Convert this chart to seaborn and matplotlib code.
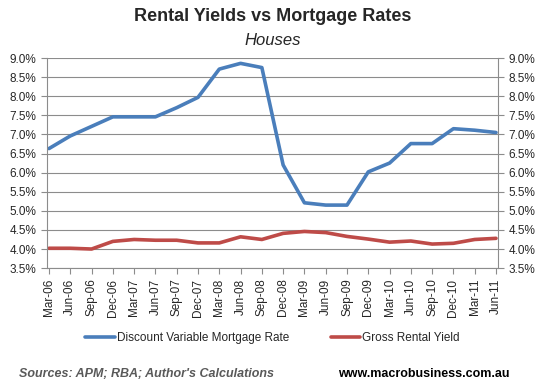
import numpy as np
import pandas as pd
import matplotlib
matplotlib.use("Agg")
import matplotlib.pyplot as plt
import seaborn as sns
from matplotlib.ticker import FuncFormatter, MultipleLocator

quarters = ["Mar-06", "Jun-06", "Sep-06", "Dec-06", "Mar-07", "Jun-07", "Sep-07", "Dec-07",
            "Mar-08", "Jun-08", "Sep-08", "Dec-08", "Mar-09", "Jun-09", "Sep-09", "Dec-09",
            "Mar-10", "Jun-10", "Sep-10", "Dec-10", "Mar-11", "Jun-11"]
mortgage_rate = [6.63, 6.96, 7.21, 7.46, 7.46, 7.46, 7.70, 7.97, 8.71, 8.86, 8.75, 6.20,
                 5.21, 5.15, 5.15, 6.02, 6.25, 6.76, 6.76, 7.15, 7.11, 7.05]
rental_yield = [4.02, 4.02, 4.00, 4.20, 4.25, 4.23, 4.23, 4.16, 4.16, 4.32, 4.25, 4.41,
                4.46, 4.43, 4.33, 4.26, 4.18, 4.21, 4.13, 4.15, 4.25, 4.28]

series_names = ["Discount Variable Mortgage Rate", "Gross Rental Yield"]
colors = ["#4A7EBB", "#BE4B48"]

df = pd.DataFrame({
    "idx": list(range(len(quarters))) * 2,
    "value": mortgage_rate + rental_yield,
    "series": [series_names[0]] * len(quarters) + [series_names[1]] * len(quarters),
})

sns.set_style("white")
plt.rcParams["font.family"] = ["Liberation Sans", "DejaVu Sans"]

fig = plt.figure(figsize=(5.45, 3.92), dpi=100)
ax = fig.add_axes([0.086, 0.316, 0.828, 0.536])

sns.lineplot(data=df, x="idx", y="value", hue="series", palette=colors,
             linewidth=2.6, ax=ax, legend=False)

ax.set_xlim(-0.1, len(quarters) - 0.9)
ax.set_ylim(3.5, 9.0)
ax.yaxis.set_major_locator(MultipleLocator(0.5))
fmt = FuncFormatter(lambda v, p: f"{v:.1f}%")
ax.yaxis.set_major_formatter(fmt)
ax.grid(axis="y", color="#8c8c8c", linewidth=0.8)
ax.set_axisbelow(True)
ax.set_xticks(range(len(quarters)))
ax.set_xticklabels(quarters, rotation=90, fontsize=8.5)
ax.set_xlabel("")
ax.set_ylabel("")
ax.tick_params(axis="y", labelsize=8.5, length=4, color="#8c8c8c", direction="out", left=True)
ax.tick_params(axis="x", length=4, color="#8c8c8c", direction="out", bottom=True)
for s in ["left", "bottom"]:
    ax.spines[s].set_color("#8c8c8c")
ax.spines["top"].set_visible(False)
ax.spines["right"].set_visible(False)

ax2 = ax.twinx()
ax2.set_ylim(3.5, 9.0)
ax2.yaxis.set_major_locator(MultipleLocator(0.5))
ax2.yaxis.set_major_formatter(fmt)
ax2.tick_params(axis="y", labelsize=8.5, length=4, color="#8c8c8c", direction="out", right=True)
for s in ["top", "left", "bottom"]:
    ax2.spines[s].set_visible(False)
ax2.spines["right"].set_color("#8c8c8c")

fig.text(0.5, 0.958, "Rental Yields vs Mortgage Rates", ha="center", va="center",
         fontsize=13, fontweight="bold")
fig.text(0.5, 0.897, "Houses", ha="center", va="center", fontsize=12, style="italic")

handles = [plt.Line2D([0], [0], color=c, linewidth=2.6) for c in colors]
fig.legend(handles, series_names, loc="center", bbox_to_anchor=(0.5, 0.137), ncol=2,
           frameon=False, fontsize=8.5, handlelength=2.5, handletextpad=0.2, columnspacing=3.5)

fig.text(0.035, 0.045, "Sources: APM; RBA; Author's Calculations", ha="left", va="center",
         fontsize=9, style="italic", fontweight="bold", color="#595959")
fig.text(0.935, 0.045, "www.macrobusiness.com.au", ha="right", va="center",
         fontsize=9, fontweight="bold", color="black")

fig.savefig("out.png", dpi=100)
